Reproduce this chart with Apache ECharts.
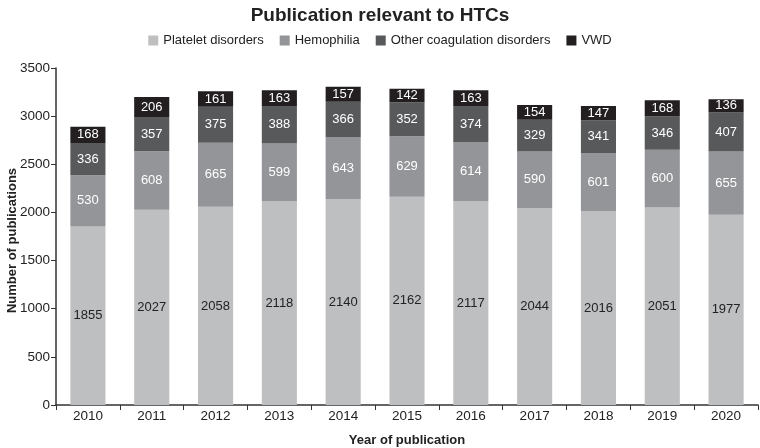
<!DOCTYPE html>
<html><head><meta charset="utf-8">
<script src="https://cdn.jsdelivr.net/npm/echarts@6/dist/echarts.min.js"></script>
<style>html,body{margin:0;padding:0;background:#fff}#c{width:760px;height:448px}</style>
</head><body><div id="c"></div>
<script>
const years = ['2010','2011','2012','2013','2014','2015','2016','2017','2018','2019','2020'];
const platelet = [1855,2027,2058,2118,2140,2162,2117,2044,2016,2051,1977];
const hemophilia = [530,608,665,599,643,629,614,590,601,600,655];
const otherCoag = [336,357,375,388,366,352,374,329,341,346,407];
const vwd = [168,206,161,163,157,142,163,154,147,168,136];
const seriesNames = ['Platelet disorders','Hemophilia','Other coagulation disorders','VWD'];
const colors = ['#bebfc1','#939598','#58595b','#231f20'];
const labelColors = ['#222','#fff','#fff','#fff'];
const font = '"Liberation Sans", Arial, sans-serif';
const chart = echarts.init(document.getElementById('c'));
const data = [platelet, hemophilia, otherCoag, vwd];
chart.setOption({
  animation:false,
  textStyle:{fontFamily:font},
  title:{text:'Publication relevant to HTCs',left:'center',top:1,textStyle:{fontFamily:font,fontSize:19,fontWeight:'bold',color:'#222'}},
  legend:{top:29,left:'center',itemWidth:10,itemHeight:10,itemGap:16,icon:'rect',textStyle:{fontFamily:font,fontSize:13,color:'#222'},data:seriesNames},
  grid:{left:56,right:2,top:68,bottom:43,containLabel:false,outerBoundsMode:'none'},
  xAxis:{type:'category',data:years,name:'Year of publication',nameLocation:'middle',nameGap:29,nameMoveOverlap:false,
    nameTextStyle:{fontFamily:font,fontSize:13,fontWeight:'bold',color:'#222'},
    axisLine:{lineStyle:{color:'#333',width:1.5}},axisTick:{show:true,alignWithLabel:false,lineStyle:{color:'#333'}},
    axisLabel:{fontFamily:font,fontSize:13.5,color:'#222',margin:4}},
  yAxis:{type:'value',min:0,max:3500,interval:500,name:'Number of publications',nameLocation:'middle',nameGap:37,nameMoveOverlap:false,
    nameTextStyle:{fontFamily:font,fontSize:13,fontWeight:'bold',color:'#222',padding:[0,0,0,-8]},
    axisLine:{show:true,lineStyle:{color:'#333',width:1.5}},axisTick:{show:true,lineStyle:{color:'#333'}},
    splitLine:{show:false},axisLabel:{fontFamily:font,fontSize:13.5,color:'#222',margin:6,formatter:v=>String(v)}},
  series: seriesNames.map((n,i)=>({
    name:n,type:'bar',stack:'total',data:data[i],barWidth:'55%',
    itemStyle:{color:colors[i]},
    label:{show:true,position:'inside',fontFamily:font,fontSize:13,color:labelColors[i]}
  }))
});
</script></body></html>
